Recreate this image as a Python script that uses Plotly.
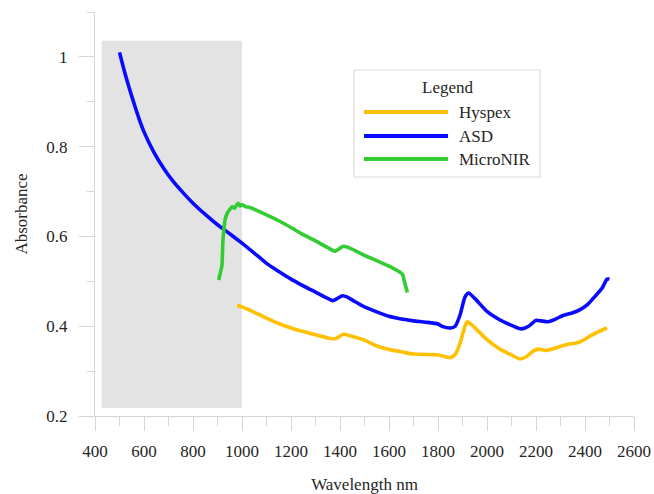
import plotly.graph_objects as go

# ---------------- data ----------------
asd_nm = [500, 520, 540, 560, 580, 600, 640, 680, 720, 760, 800, 850, 900, 950, 1000,
          1050, 1100, 1150, 1200, 1250, 1300, 1350, 1370, 1390, 1410, 1430, 1460, 1500,
          1550, 1600, 1650, 1700, 1750, 1800, 1820, 1850, 1870, 1890, 1910, 1925, 1950,
          2000, 2050, 2100, 2140, 2170, 2200, 2220, 2250, 2280, 2310, 2350, 2380, 2410,
          2440, 2470, 2490, 2500]
asd_abs = [1.010, 0.968, 0.930, 0.895, 0.862, 0.833, 0.788, 0.752, 0.722, 0.697, 0.674,
           0.649, 0.626, 0.606, 0.585, 0.563, 0.540, 0.522, 0.505, 0.490, 0.476, 0.462,
           0.457, 0.462, 0.468, 0.465, 0.455, 0.443, 0.432, 0.422, 0.416, 0.412, 0.409,
           0.405, 0.399, 0.396, 0.400, 0.425, 0.465, 0.474, 0.462, 0.433, 0.415, 0.402,
           0.394, 0.400, 0.413, 0.412, 0.410, 0.416, 0.424, 0.430, 0.437, 0.448, 0.466,
           0.485, 0.505, 0.505]

hyspex_nm = [980, 1000, 1050, 1100, 1150, 1200, 1250, 1300, 1350, 1380, 1400, 1415, 1440,
             1500, 1550, 1600, 1650, 1700, 1750, 1800, 1850, 1870, 1890, 1910, 1920, 1950,
             2000, 2050, 2100, 2135, 2160, 2190, 2210, 2240, 2270, 2300, 2330, 2360, 2390,
             2420, 2460, 2490]
hyspex_abs = [0.446, 0.443, 0.431, 0.418, 0.406, 0.396, 0.388, 0.381, 0.374, 0.372, 0.378,
              0.382, 0.379, 0.369, 0.356, 0.348, 0.343, 0.338, 0.337, 0.336, 0.330, 0.337,
              0.362, 0.400, 0.410, 0.397, 0.370, 0.350, 0.336, 0.327, 0.332, 0.345, 0.349,
              0.346, 0.350, 0.355, 0.360, 0.362, 0.368, 0.378, 0.389, 0.396]

micronir_nm = [905, 912, 918, 922, 926, 932, 940, 950, 960, 970, 978, 985, 992, 1000, 1015,
               1030, 1060, 1100, 1150, 1200, 1250, 1300, 1350, 1380, 1400, 1415, 1440,
               1500, 1550, 1600, 1640, 1655, 1665, 1675]
micronir_abs = [0.503, 0.520, 0.535, 0.590, 0.615, 0.640, 0.652, 0.660, 0.666, 0.663, 0.670,
                0.674, 0.668, 0.671, 0.666, 0.665, 0.658, 0.648, 0.635, 0.620, 0.604, 0.590,
                0.575, 0.567, 0.574, 0.578, 0.574, 0.558, 0.546, 0.534, 0.522, 0.516, 0.495,
                0.475]

series_names = ["Hyspex", "ASD", "MicroNIR"]
series_colors = ["#ffc000", "#0a0aff", "#33cc33"]

shade_nm = [427, 1000]
shade_abs = [0.218, 1.036]

x_ticks = [400, 600, 800, 1000, 1200, 1400, 1600, 1800, 2000, 2200, 2400, 2600]
y_ticks = [0.2, 0.4, 0.6, 0.8, 1.0]
y_ticklabels = ["0.2", "0.4", "0.6", "0.8", "1"]

# ---------------- figure ----------------
FONT = "Liberation Serif"
TXT = "#262626"
AXC = "#d6d6d6"

fig = go.Figure()

fig.add_shape(type="rect", xref="x", yref="y",
              x0=shade_nm[0], x1=shade_nm[1], y0=shade_abs[0], y1=shade_abs[1],
              fillcolor="#e3e3e3", line=dict(width=0), layer="below")

data = [(hyspex_nm, hyspex_abs), (asd_nm, asd_abs), (micronir_nm, micronir_abs)]
for (xs, ys), name, col in zip(data, series_names, series_colors):
    fig.add_trace(go.Scatter(x=xs, y=ys, mode="lines", name=name,
                             line=dict(color=col, width=3.6, shape="spline", smoothing=0.6),
                             showlegend=False))

# ---- manual legend (long line samples as in the reference) ----
def px2x(px):
    return (px - 95) / 539.0

def py2y(py):
    return (416 - py) / 404.0

fig.add_shape(type="rect", xref="paper", yref="paper",
              x0=px2x(354), x1=px2x(540), y0=py2y(177), y1=py2y(70),
              fillcolor="white", line=dict(color="#dcdcdc", width=1.2))
fig.add_annotation(xref="paper", yref="paper", x=px2x(447), y=py2y(88),
                   text="Legend", showarrow=False, xanchor="center", yanchor="middle",
                   font=dict(family=FONT, size=17, color=TXT))
row_y = [112, 136, 159]
for name, col, ry in zip(series_names, series_colors, row_y):
    fig.add_shape(type="line", xref="paper", yref="paper",
                  x0=px2x(364), x1=px2x(448), y0=py2y(ry), y1=py2y(ry),
                  line=dict(color=col, width=4))
    fig.add_annotation(xref="paper", yref="paper", x=px2x(457), y=py2y(ry),
                       text=name, showarrow=False, xanchor="left", yanchor="middle",
                       font=dict(family=FONT, size=17, color=TXT))

fig.update_layout(
    width=654, height=494,
    margin=dict(l=95, r=20, t=12, b=78),
    paper_bgcolor="white", plot_bgcolor="white",
    font=dict(family=FONT, size=17, color=TXT),
    xaxis=dict(range=[400, 2600], tickvals=x_ticks, ticks="outside", ticklen=14,
               tickcolor=AXC, tickwidth=1.2, showline=True, linecolor=AXC, linewidth=1.2,
               showgrid=False, zeroline=False, automargin=False, ticklabelstandoff=5,
               minor=dict(dtick=100, ticks="outside", ticklen=9, tickcolor=AXC, tickwidth=1.2, showgrid=False),
               title=dict(text="Wavelength nm", standoff=29, font=dict(family=FONT, size=17, color=TXT)),
               tickfont=dict(family=FONT, size=17, color=TXT)),
    yaxis=dict(range=[0.2, 1.1], tickvals=y_ticks, ticktext=y_ticklabels, ticks="outside",
               ticklen=15, tickcolor=AXC, tickwidth=1.2, showline=True, linecolor=AXC,
               linewidth=1.2, showgrid=False, zeroline=False, automargin=False,
               ticklabelstandoff=8,
               minor=dict(dtick=0.1, ticks="outside", ticklen=7, tickcolor=AXC, tickwidth=1.2, showgrid=False),
               title=dict(text="Absorbance", standoff=14, font=dict(family=FONT, size=17, color=TXT)),
               tickfont=dict(family=FONT, size=17, color=TXT)),
    showlegend=False,
)

fig.write_html("out.html", config={"displayModeBar": False},
               post_script="document.body.style.margin='0px';document.body.style.padding='0px';")
